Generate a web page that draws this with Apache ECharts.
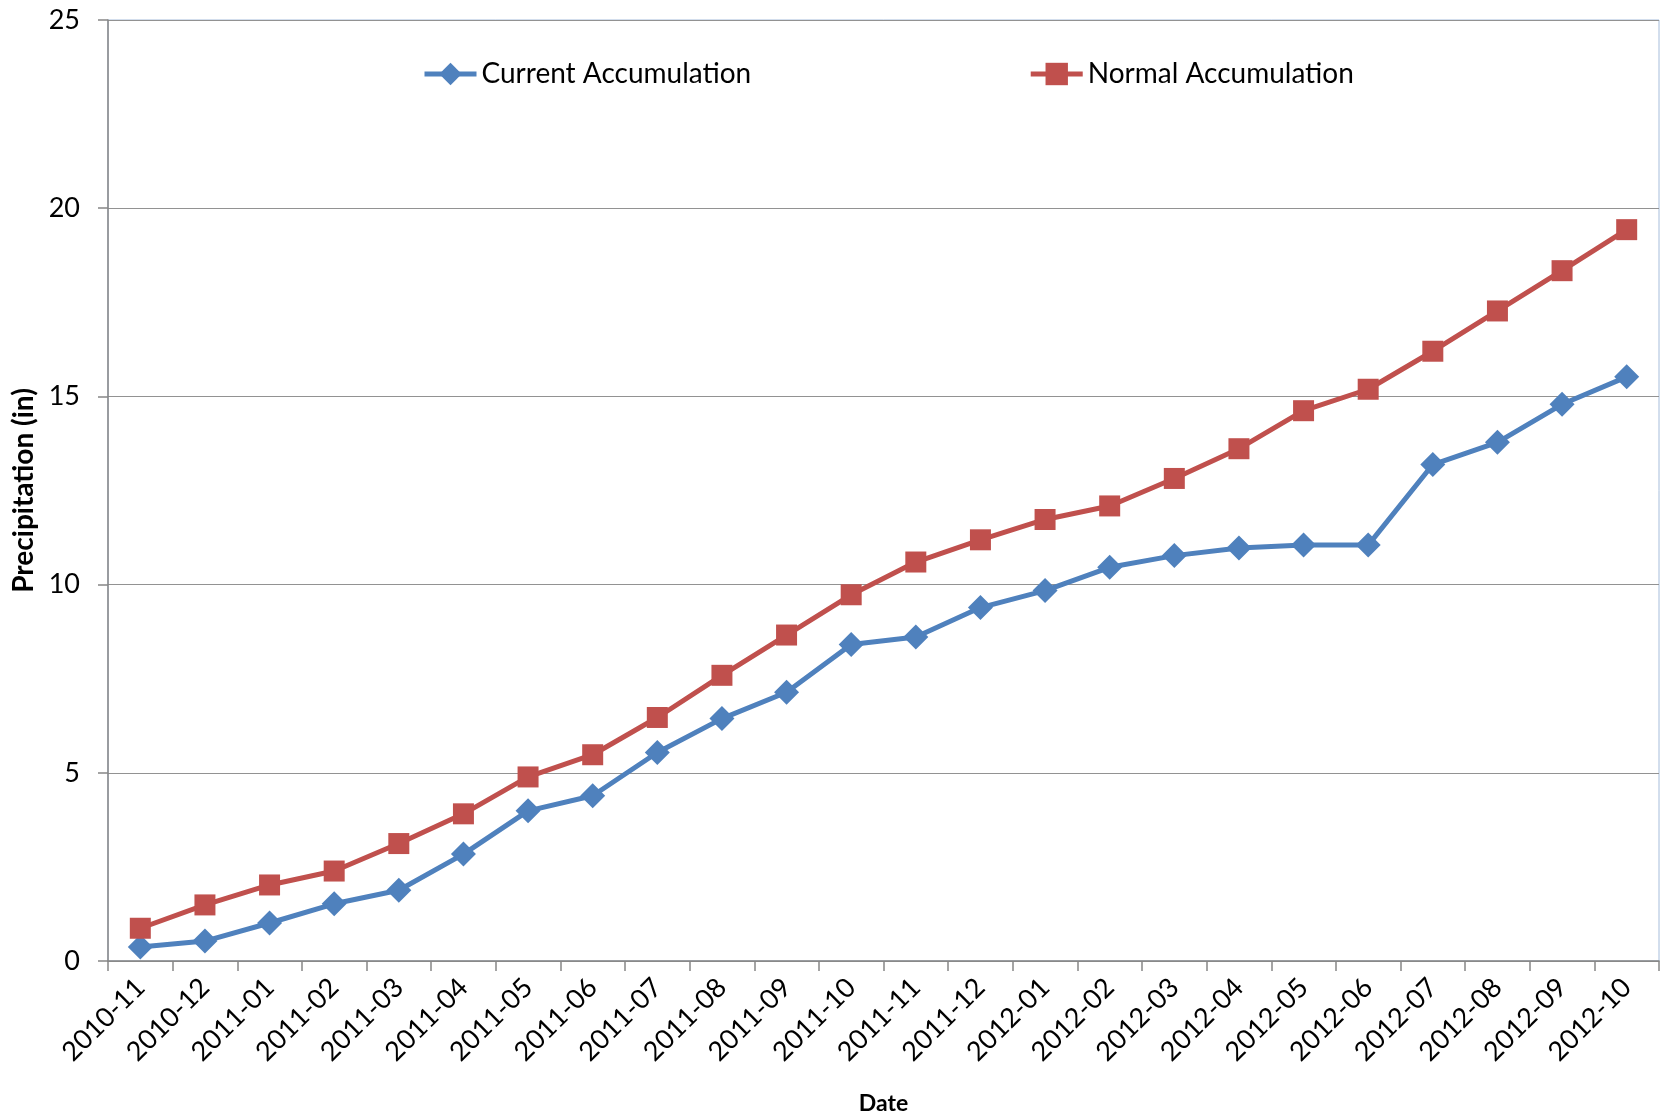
<!DOCTYPE html>
<html>
<head>
<meta charset="utf-8">
<script src="https://cdn.jsdelivr.net/npm/echarts@6/dist/echarts.min.js"></script>
<style>
html,body{margin:0;padding:0;background:#fff;}
#chart{width:1660px;height:1114px;}
</style>
</head>
<body>
<div id="chart"></div>
<script>
const categories = ['2010-11','2010-12','2011-01','2011-02','2011-03','2011-04','2011-05','2011-06','2011-07','2011-08','2011-09','2011-10','2011-11','2011-12','2012-01','2012-02','2012-03','2012-04','2012-05','2012-06','2012-07','2012-08','2012-09','2012-10'];
const currentAccumulation = [0.37,0.53,1.01,1.52,1.88,2.84,3.99,4.39,5.54,6.44,7.14,8.41,8.61,9.39,9.84,10.46,10.77,10.97,11.05,11.05,13.19,13.78,14.79,15.52];
const normalAccumulation = [0.87,1.49,2.02,2.39,3.12,3.91,4.89,5.48,6.47,7.59,8.66,9.73,10.60,11.19,11.73,12.09,12.82,13.61,14.62,15.19,16.20,17.27,18.34,19.43];
const yTicks = [0,5,10,15,20,25];

const font = 'Lato, "Open Sans", sans-serif';
const chart = echarts.init(document.getElementById('chart'));
chart.setOption({
  animation: false,
  backgroundColor: '#fff',
  grid: {left: 108, right: 1, top: 20, bottom: 153, show: true, borderColor: '#A6BDDB', borderWidth: 1, containLabel: false, outerBoundsMode: 'none'},
  legend: {
    left: 417, top: 55,
    itemWidth: 52, itemHeight: 28, itemGap: 277,
    lineStyle: {width: 5},
    textStyle: {fontFamily: font, fontSize: 28, color: '#000'},
    data: ['Current Accumulation', 'Normal Accumulation']
  },
  xAxis: {
    type: 'category',
    data: categories,
    boundaryGap: true,
    name: 'Date',
    nameLocation: 'middle',
    nameGap: 131,
    nameTextStyle: {fontFamily: font, fontSize: 23, fontWeight: 'bold', color: '#000'},
    axisLine: {lineStyle: {color: '#868686', width: 1.5}},
    axisTick: {show: true, length: 10, lineStyle: {color: '#868686', width: 1.5}},
    axisLabel: {rotate: 45, fontFamily: font, fontSize: 27, color: '#000', margin: 22, interval: 0}
  },
  yAxis: {
    type: 'value',
    min: yTicks[0], max: yTicks[yTicks.length - 1], interval: 5,
    name: 'Precipitation (in)',
    nameLocation: 'middle',
    nameGap: 70,
    nameTextStyle: {fontFamily: font, fontSize: 28, fontWeight: 'bold', color: '#000'},
    axisLine: {show: true, lineStyle: {color: '#868686', width: 1.5}},
    axisTick: {show: true, length: 10, lineStyle: {color: '#868686', width: 1.5}},
    axisLabel: {fontFamily: font, fontSize: 27, color: '#000', margin: 28},
    splitLine: {lineStyle: {color: '#929292', width: 1.2}}
  },
  series: [
    {
      name: 'Current Accumulation', type: 'line', data: currentAccumulation,
      symbol: 'diamond', symbolSize: 25,
      itemStyle: {color: '#4F81BD'},
      lineStyle: {color: '#4F81BD', width: 5}
    },
    {
      name: 'Normal Accumulation', type: 'line', data: normalAccumulation,
      symbol: 'rect', symbolSize: 21,
      itemStyle: {color: '#C0504D'},
      lineStyle: {color: '#C0504D', width: 5}
    }
  ]
});
</script>
</body>
</html>
